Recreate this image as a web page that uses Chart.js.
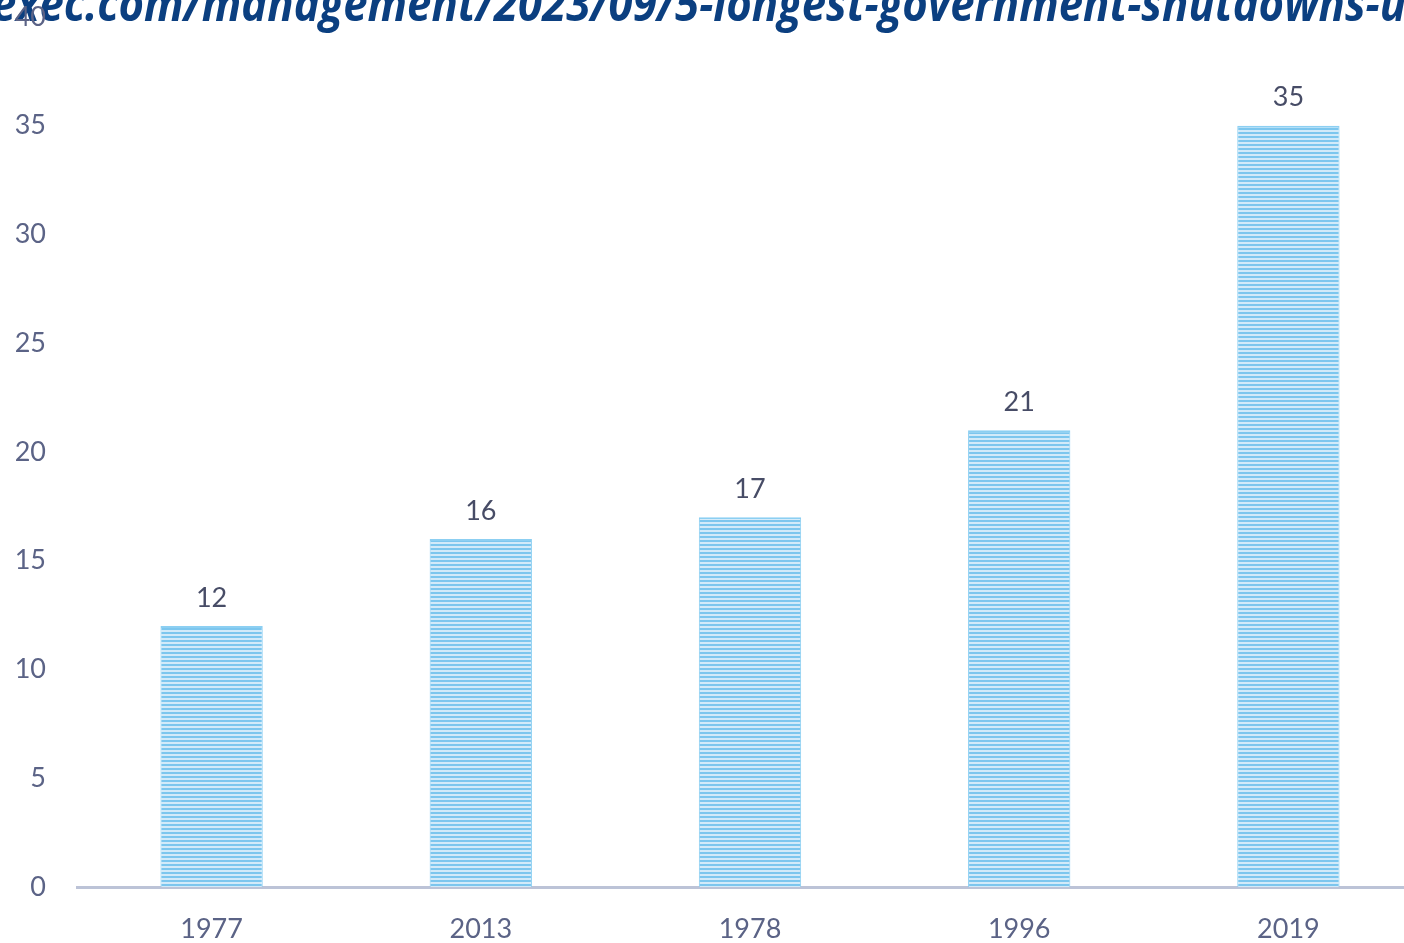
<!DOCTYPE html>
<html>
<head>
<meta charset="utf-8">
<script src="https://cdn.jsdelivr.net/npm/chart.js@4"></script>
<style>
  html, body { margin: 0; padding: 0; background: #ffffff; overflow: hidden; }
  #wrap { position: relative; width: 1423px; height: 943px; }
  canvas { display: block; }
</style>
</head>
<body>
<div id="wrap"><canvas id="c" width="1423" height="943"></canvas></div>
<script>
const titleText = "exec.com/management/2023/09/5-longest-government-shutdowns-u";
const categories = ["1977", "2013", "1978", "1996", "2019"];
const shutdownDays = [12, 16, 17, 21, 35];
const yTicks = [0, 5, 10, 15, 20, 25, 30, 35, 40];

function stripePattern() {
  const pc = document.createElement('canvas');
  pc.width = 4; pc.height = 4;
  const g = pc.getContext('2d');
  g.fillStyle = '#d2eaf9';
  g.fillRect(0, 0, 4, 4);
  g.fillStyle = '#7cc6ee';
  g.fillRect(0, 0, 4, 2);
  return g.createPattern(pc, 'repeat');
}

const labelPlugin = {
  id: 'valueLabels',
  afterDatasetsDraw(chart) {
    const ctx = chart.ctx;
    const meta = chart.getDatasetMeta(0);
    ctx.save();
    ctx.font = '27px Lato';
    ctx.fillStyle = '#474c66';
    ctx.textAlign = 'center';
    ctx.textBaseline = 'middle';
    meta.data.forEach((bar, i) => {
      ctx.fillText(String(shutdownDays[i]), bar.x, bar.y - 28);
    });
    ctx.restore();
  }
};

const titlePlugin = {
  id: 'clippedTitle',
  beforeDraw(chart) {
    const ctx = chart.ctx;
    ctx.save();
    ctx.font = 'italic bold 48px "Open Sans"';
    ctx.fillStyle = '#0b3f80';
    ctx.textAlign = 'left';
    ctx.textBaseline = 'alphabetic';
    ctx.fillText(titleText, -8, 21, 1414);
    ctx.restore();
  }
};

new Chart(document.getElementById('c'), {
  type: 'bar',
  data: {
    labels: categories,
    datasets: [{
      data: shutdownDays,
      backgroundColor: stripePattern(),
      borderColor: '#8ccff2',
      borderWidth: { top: 2, left: 1, right: 1, bottom: 0 },
      borderSkipped: false,
      categoryPercentage: 1.0,
      barPercentage: 0.38
    }]
  },
  options: {
    responsive: false,
    animation: false,
    devicePixelRatio: 1,
    layout: { padding: { top: 17, right: 0, left: 0, bottom: 0 } },
    plugins: { legend: { display: false }, tooltip: { enabled: false }, title: { display: false } },
    scales: {
      x: {
        grid: { display: false, drawTicks: false },
        border: { display: true, color: '#bcc3d7', width: 3 },
        ticks: { color: '#5b6386', font: { family: 'Lato', size: 27 }, padding: 26 },
        afterFit(s) { s.height = 56; s.paddingLeft = 0; s.paddingRight = 0; }
      },
      y: {
        min: 0, max: 40,
        afterBuildTicks(s) { s.ticks = yTicks.map(v => ({ value: v })); },
        grid: { display: false, drawTicks: false },
        border: { display: false },
        ticks: { color: '#5b6386', font: { family: 'Lato', size: 27 }, padding: 31 },
        afterFit(s) { s.width = 77; s.paddingTop = 0; s.paddingBottom = 0; }
      }
    }
  },
  plugins: [labelPlugin, titlePlugin]
});
</script>
</body>
</html>
